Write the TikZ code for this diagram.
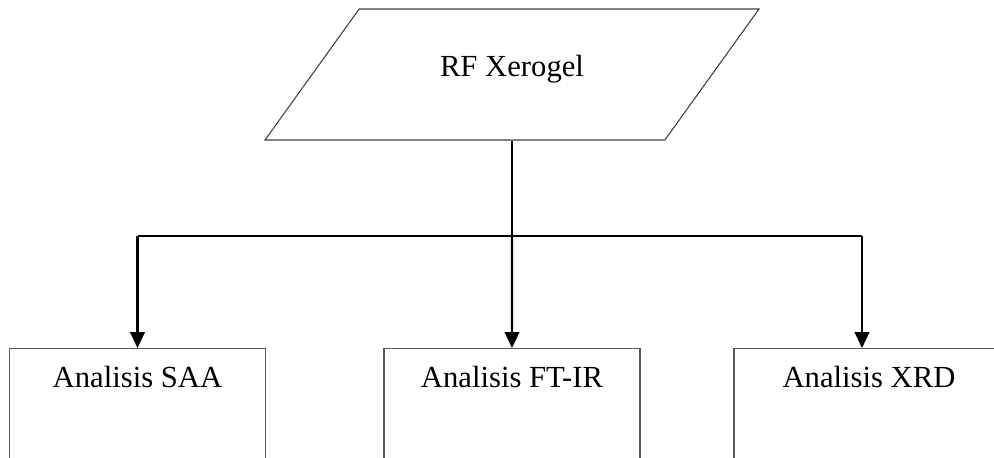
\documentclass[tikz,border=0pt]{standalone}
\usepackage{fontspec}
\setmainfont{Liberation Serif}
\usetikzlibrary{arrows.meta}
\usetikzlibrary{positioning}
\usetikzlibrary{shapes.geometric}
\tikzset{
  every picture/.style={font={\fontsize{23pt}{27pt}\selectfont}, >={Triangle[length=12pt,width=11pt]}},
  every node/.style={inner sep=0pt}}

\begin{document}
\begin{tikzpicture}[x=0.75pt, y=-0.75pt,
    sample/.style={draw=black!75, line width=0.8pt, trapezium,
      trapezium left angle=54.3, trapezium right angle=125.7,
      trapezium stretches body, minimum width=370.5pt, minimum height=98.25pt,
      text height=50.25pt, text depth=48pt},
    test/.style={draw=black!65, line width=0.8pt, anchor=north,
      minimum width=192pt, text height=29.25pt, text depth=90pt},
    link/.style={line width=1.6pt}]

    \clip (0,0) rectangle (994,457);

    \node[sample] (rf) at (512,74.5) {RF Xerogel};

    \node[test] (saa) at (137.5,348) {Analisis SAA};
    \node[test] (ftir) at (512,348) {Analisis FT-IR};
    \node[test, minimum width=202.5pt] (xrd) at (869,348) {Analisis XRD};

    \coordinate (split) at (rf.south |- 0,236);
    \coordinate (splitL) at (saa.north |- split);
    \coordinate (splitR) at (862,236);

    \draw[link] (rf.south) -- (split);
    \draw[link] (splitL) -- (splitR);
    \draw[link, ->] (splitL) -- (saa.north);
    \draw[link, ->] (split) -- (ftir.north);
    \draw[link, ->] (splitR) -- (splitR |- xrd.north);
  \end{tikzpicture}
\end{document}
